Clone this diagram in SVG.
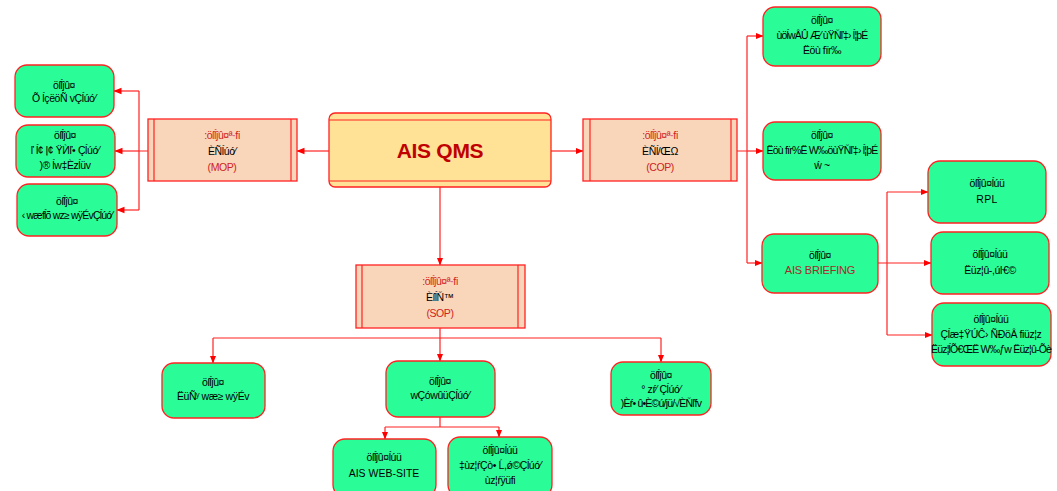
<svg xmlns="http://www.w3.org/2000/svg" width="1057" height="491" viewBox="0 0 1057 491">
<defs>
<marker id="ah" viewBox="0 0 8 8" refX="7.5" refY="4" markerWidth="8" markerHeight="8" markerUnits="userSpaceOnUse" orient="auto">
<path d="M0,0.8 L8,4 L0,7.2 Z" fill="#F00"/>
</marker>
<style>
.g{fill:#2AFC98;stroke:#F22;stroke-width:1.3}
.p{fill:#F9D6BA;stroke:#F22;stroke-width:1.3}
.il{stroke:#F22;stroke-width:1.2;fill:none}
.c{stroke:#F22;stroke-width:1.2;fill:none}
.ca{stroke:#F22;stroke-width:1.2;fill:none;marker-end:url(#ah)}
text{font-family:"Liberation Sans",Arial,sans-serif;font-size:10.5px;text-anchor:middle;fill:#000;letter-spacing:-0.4px}
.r{fill:#D02020}
.dr{fill:#A52A2A}
.n{letter-spacing:-0.8px}
</style>
</defs>
<rect width="1057" height="491" fill="#FFF"/>
<g id="connectors">
<path class="ca" d="M329,151 H297"/>
<path class="c" d="M148,151 H139 M139,91 V210"/>
<path class="ca" d="M139,91 H114"/>
<path class="ca" d="M139,151 H115"/>
<path class="ca" d="M139,210 H117"/>
<path class="ca" d="M551,151 H583"/>
<path class="c" d="M737,151 H747 M747,36 V263"/>
<path class="ca" d="M747,36 H763"/>
<path class="ca" d="M747,151 H763"/>
<path class="ca" d="M747,263 H762"/>
<path class="c" d="M878,263 H887 M887,192 V335"/>
<path class="ca" d="M887,192 H928"/>
<path class="ca" d="M887,263 H931"/>
<path class="ca" d="M887,335 H932"/>
<path class="ca" d="M440,187 V265"/>
<path class="c" d="M440,328 V338 M213,338 H661"/>
<path class="ca" d="M213,338 V363"/>
<path class="ca" d="M440,338 V361"/>
<path class="ca" d="M661,338 V362"/>
<path class="c" d="M440,417 V427 M385,427 H499"/>
<path class="ca" d="M385,427 V439"/>
<path class="ca" d="M499,427 V437"/>
</g>
<g id="ais-qms">
<rect x="329" y="113" width="222" height="74" rx="6" fill="#FFE295" stroke="#F22" stroke-width="1.3"/>
<path class="il" d="M329,120 H551 M329,181 H551"/>
<text x="440" y="158" style="font-size:21px;font-weight:bold;fill:#C00000;letter-spacing:-0.3px">AIS QMS</text>
</g>
<g id="mop">
<rect class="p" x="148" y="119" width="149" height="62"/>
<path class="il" d="M154,119 V181 M291,119 V181"/>
<text class="r" x="222" y="139">:öſĺĵû¤ª·fi</text>
<text x="222" y="155">ÈÑĺúó⁄</text>
<text class="r" x="222" y="171">(MOP)</text>
</g>
<g id="cop">
<rect class="p" x="583" y="119" width="154" height="62"/>
<path class="il" d="M590,119 V181 M731,119 V181"/>
<text class="r" x="660" y="139">:öſĺĵû¤ª·fi</text>
<text x="660" y="155">ÈÑĺ/ŒΩ</text>
<text class="r" x="660" y="171">(COP)</text>
</g>
<g id="sop">
<rect class="p" x="356" y="265" width="169" height="63"/>
<path class="il" d="M362,265 V328 M518,265 V328"/>
<text class="r" x="440" y="285">:öſĺĵû¤ª·fi</text>
<text x="440" y="301">ÈſĺŇ™</text>
<text class="r" x="440" y="317">(SOP)</text>
</g>
<g id="left-1">
<rect class="g" x="15" y="65" width="99" height="52" rx="12"/>
<text x="64" y="89">öſĺĵû¤</text>
<text x="64" y="102">Õ ĺçëöÑ vÇĺúó⁄</text>
</g>
<g id="left-2">
<rect class="g" x="16" y="125" width="99" height="52" rx="12"/>
<text x="65" y="139">öſĺĵû¤</text>
<text x="65" y="154">ľ ĺ¢ ļ¢ ŸЍľ• Çĺúó⁄</text>
<text x="65" y="169">)® ĺw‡Èzĺüv</text>
</g>
<g id="left-3">
<rect class="g" x="17" y="184" width="100" height="52" rx="12"/>
<text x="67" y="205">öſĺĵû¤</text>
<text class="n" x="67" y="219">‹ wæfĺõ wz≥ wÿÉvÇĺúó⁄</text>
</g>
<g id="right-top-1">
<rect class="g" x="763" y="7" width="118" height="59" rx="12"/>
<text x="822" y="24">öſĺĵû¤</text>
<text class="n" x="822" y="39">ùöĺwÂÛ Æ⁄ ùŸŇľ‡› ĺ¦þÉ</text>
<text x="822" y="54">Ëöù fïr‰</text>
</g>
<g id="right-top-2">
<rect class="g" x="763" y="122" width="118" height="58" rx="12"/>
<text x="822" y="139">öſĺĵû¤</text>
<text class="n" x="822" y="154">Ëöù fïr%Ë W‰öùŸŇľ‡› ĺ¦þÉ</text>
<text x="822" y="169">ẃ ~</text>
</g>
<g id="ais-briefing">
<rect class="g" x="762" y="234" width="116" height="59" rx="12"/>
<text x="820" y="259">öſĺĵû¤</text>
<text class="dr" x="820" y="274" style="font-size:11px;letter-spacing:-0.2px">AIS BRIEFING</text>
</g>
<g id="rpl">
<rect class="g" x="928" y="161" width="118" height="62" rx="12"/>
<text x="987" y="187">öſĺĵû¤ĺúü</text>
<text x="987" y="203" style="letter-spacing:0.3px">RPL</text>
</g>
<g id="right-2">
<rect class="g" x="931" y="232" width="118" height="62" rx="12"/>
<text x="990" y="258">öſĺĵû¤ĺúü</text>
<text x="990" y="274">Ëüz¦û-,úŀ€©</text>
</g>
<g id="right-3">
<rect class="g" x="932" y="303" width="119" height="63" rx="12"/>
<text x="991" y="323">öſĺĵû¤ĺúü</text>
<text x="991" y="338">Çĺæ‡ŸÚĈ› ÑĐöÂ fiüz¦z</text>
<text class="n" x="991" y="353">Ëüz¦ĺÕ€ŒË W‰ƒw Ëüz¦û-Õè</text>
</g>
<g id="bottom-1">
<rect class="g" x="162" y="363" width="103" height="55" rx="12"/>
<text x="213" y="386">öſĺĵû¤</text>
<text x="213" y="400">ËüÑʸ wæ≥ wÿÉv</text>
</g>
<g id="bottom-2">
<rect class="g" x="386" y="361" width="109" height="56" rx="12"/>
<text x="440" y="385">öſĺĵû¤</text>
<text x="440" y="399">wÇówûüÇĺúó⁄</text>
</g>
<g id="bottom-3">
<rect class="g" x="611" y="362" width="100" height="53" rx="12"/>
<text x="661" y="379">öſĺĵû¤</text>
<text x="661" y="393">° zŕ⁄ Çĺúó⁄</text>
<text class="n" x="661" y="407">)Èŕ• û•È©ú/jü/√ÈŇľfv</text>
</g>
<g id="web-site">
<rect class="g" x="333" y="439" width="103" height="58" rx="12"/>
<text x="384" y="461">öſĺĵû¤ĺúü</text>
<text x="384" y="477" style="letter-spacing:0">AIS WEB-SITE</text>
</g>
<g id="bottom-5">
<rect class="g" x="448" y="437" width="104" height="60" rx="12"/>
<text x="500" y="454">öſĺĵû¤ĺúü</text>
<text x="500" y="469">‡ùz¦ŕÇò• Ĺ,ǿ©Çĺúó⁄</text>
<text x="500" y="484">ùz¦ŕÿüfi</text>
</g>
</svg>
